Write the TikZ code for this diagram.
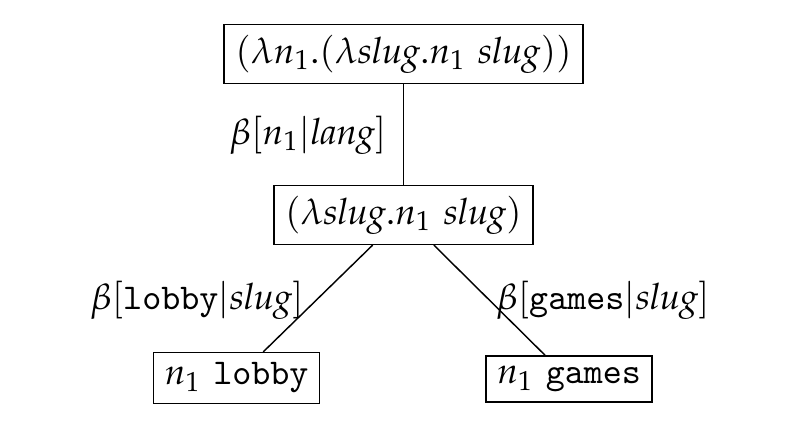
\documentclass[tikz,border=0pt]{standalone}
\usepackage{mathpazo}
\renewcommand{\rmdefault}{lmr}
\renewcommand{\ttdefault}{lmtt}
\tikzset{
  term/.style={draw, line width=0.4pt, inner xsep=3.1pt, inner ysep=2.8pt},
  lbl/.style={inner sep=0pt},
  edge/.style={draw, line width=0.4pt}
}
\begin{document}
\begin{tikzpicture}[x=0.2758pt, y=-0.2758pt]
\useasboundingbox (0,0) rectangle (790,426);
\node[term] (top) at (403.5,54) {$(\lambda n_1.(\lambda \mathit{slug}.n_1\ \mathit{slug}))$};
\node[term] (mid) at (403.5,215) {$(\lambda \mathit{slug}.n_1\ \mathit{slug})$};
\node[term] (lob) at (236.5,378) {$n_1$ \texttt{lobby}};
\node[term] (gam) at (569,379) {$n_1$ \texttt{games}};
\draw[edge] (top) -- (mid);
\draw[edge] (mid) -- (lob);
\draw[edge] (mid) -- (gam);
\node[lbl] (l1) at (308,135) {$\beta[n_1|\mathit{lang}]$};
\node[lbl] (l2) at (197,300) {$\beta[\texttt{lobby}|\mathit{slug}]$};
\node[lbl] (l3) at (603,300) {$\beta[\texttt{games}|\mathit{slug}]$};
\end{tikzpicture}
\end{document}
